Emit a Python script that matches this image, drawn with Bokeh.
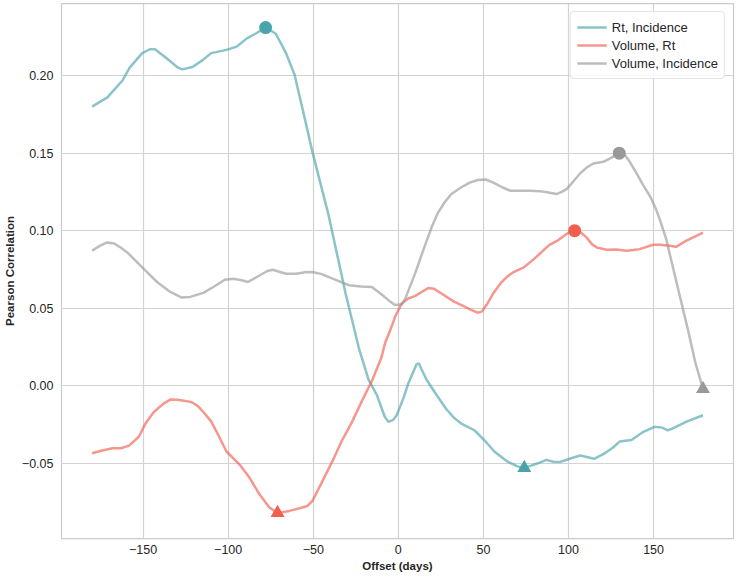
import numpy as np
from bokeh.plotting import figure
from bokeh.models import Range1d, FixedTicker, CustomJSTickFormatter, Legend, LegendItem
from bokeh.embed import file_html
from bokeh.resources import INLINE

# ---------------- data ----------------
series_names = ["Rt, Incidence", "Volume, Rt", "Volume, Incidence"]
series_colors = ["#4ba3ab", "#f0604f", "#999999"]

rt_inc_x = [-180, -171, -162, -158, -150.5, -146, -143, -136, -130, -127, -121, -115, -110, -101,
            -95, -89, -84, -78, -72, -66, -61, -54.5, -50.5, -41, -31, -23, -17.5, -12.6, -8, -5.8,
            -3, -1, 3, 6, 10.7, 12, 13.6, 16.5, 21.4, 28, 33, 37, 44.7, 50.5, 56.4, 64, 70, 74, 78,
            82, 87, 91, 95, 103, 107, 115, 120.5, 126, 130, 137, 144, 150.6, 155, 158.3, 161, 169, 179]
rt_inc_y = [0.180, 0.186, 0.197, 0.205, 0.2145, 0.2170, 0.2170, 0.211, 0.2055, 0.2040, 0.2055, 0.2100,
            0.2145, 0.2166, 0.2187, 0.224, 0.227, 0.231, 0.227, 0.2145, 0.2006, 0.170, 0.1508, 0.110,
            0.0595, 0.0234, 0.004, -0.006, -0.020, -0.0233, -0.022, -0.019, -0.008, 0.002, 0.0138,
            0.0145, 0.0106, 0.0040, -0.0042, -0.0148, -0.0210, -0.0244, -0.0287, -0.035, -0.0424,
            -0.0488, -0.052, -0.053, -0.0515, -0.050, -0.0478, -0.049, -0.0492, -0.0463, -0.045,
            -0.0471, -0.0441, -0.040, -0.036, -0.035, -0.0297, -0.0265, -0.027, -0.0287, -0.0276,
            -0.0233, -0.019]

vol_rt_x = [-180, -174, -168, -163, -158.3, -152.5, -148.6, -143.7, -138, -134, -130, -126, -121.4,
            -118, -114.6, -110, -106.8, -101, -93.2, -87.4, -81.6, -75.8, -71, -64, -58, -53.4, -50.5,
            -44.6, -38.8, -33, -27.2, -21.3, -15.5, -10, -7.8, -4, -1.9, 2, 5.8, 9.7, 13, 17.5, 21,
            25.3, 33, 38, 42.8, 46.6, 49, 52.4, 56, 60, 64.1, 68, 73.8, 80, 85.5, 89, 93.2, 99, 103.6,
            107, 110.7, 114, 116.6, 122.4, 128, 134, 138, 141.8, 149.6, 154, 159.3, 163.2, 169, 174, 179]
vol_rt_y = [-0.0435, -0.0418, -0.0403, -0.0403, -0.0386, -0.0329, -0.0244, -0.0169, -0.0115, -0.0089,
            -0.0090, -0.0096, -0.0106, -0.013, -0.0169, -0.023, -0.0297, -0.0424, -0.051, -0.0594,
            -0.070, -0.0785, -0.082, -0.0807, -0.079, -0.0775, -0.0743, -0.0615, -0.0488, -0.035,
            -0.0233, -0.0096, 0.0032, 0.018, 0.0276, 0.038, 0.0446, 0.0531, 0.0563, 0.0578, 0.060,
            0.0630, 0.0625, 0.0595, 0.0541, 0.0515, 0.0489, 0.0471, 0.0478, 0.0531, 0.060, 0.066,
            0.0705, 0.0735, 0.0764, 0.082, 0.0876, 0.091, 0.0934, 0.098, 0.100, 0.099, 0.0955, 0.091,
            0.0892, 0.0877, 0.0878, 0.0871, 0.0875, 0.0881, 0.0909, 0.091, 0.0903, 0.0896, 0.0934,
            0.096, 0.0987]

vol_inc_x = [-180, -175, -171, -167, -163, -159.3, -150.5, -141.8, -134, -127.2, -122.4, -114.6, -108.7,
             -102, -97, -92, -88.4, -81.6, -77, -73.8, -70, -66, -60, -55, -50.5, -45, -40.8, -35, -29,
             -22, -15.5, -10, -5.8, -2, 2, 4, 9.7, 15.5, 19.5, 23, 27, 31, 37, 42, 46.6, 51.5, 56.4, 61,
             66, 72, 77.7, 83, 87.4, 92.9, 96, 99, 103, 106.9, 111, 114.6, 120.5, 125, 129.8, 133, 136,
             140, 143.8, 148, 151.5, 154, 157.3, 161, 165, 170, 174.5, 179]
vol_inc_y = [0.0871, 0.0905, 0.0924, 0.0917, 0.089, 0.086, 0.0764, 0.0669, 0.0605, 0.0569, 0.0573,
             0.0599, 0.0637, 0.0684, 0.069, 0.068, 0.0669, 0.0711, 0.0740, 0.0748, 0.0735, 0.0722,
             0.0722, 0.0732, 0.0733, 0.0720, 0.070, 0.0675, 0.0648, 0.0640, 0.0637, 0.059, 0.0552,
             0.052, 0.0525, 0.056, 0.072, 0.090, 0.102, 0.111, 0.118, 0.1235, 0.128, 0.131, 0.1327,
             0.1330, 0.1306, 0.128, 0.1257, 0.1258, 0.1257, 0.1255, 0.1248, 0.1236, 0.125, 0.127,
             0.132, 0.137, 0.141, 0.1433, 0.1444, 0.147, 0.150, 0.149, 0.1444, 0.137, 0.1296, 0.122,
             0.1136, 0.106, 0.095, 0.078, 0.0597, 0.037, 0.015, -0.002]

x_ticks = [-150, -100, -50, 0, 50, 100, 150]
y_ticks = [-0.05, 0.0, 0.05, 0.10, 0.15, 0.20]

series_x = [rt_inc_x, vol_rt_x, vol_inc_x]
series_y = [rt_inc_y, vol_rt_y, vol_inc_y]

# ---------------- figure ----------------
FONT = "Liberation Sans"
p = figure(width=735, height=574, output_backend="svg", toolbar_location=None,
           x_range=Range1d(-197.95, 196.95), y_range=Range1d(-0.0985, 0.2465),
           min_border_left=10, min_border_right=2, min_border_top=3, min_border_bottom=0)

p.outline_line_color = "#cccccc"
p.outline_line_width = 1.25
p.background_fill_color = "white"
p.border_fill_color = "white"

for ax in (p.xaxis[0], p.yaxis[0]):
    ax.axis_line_color = None
    ax.major_tick_line_color = None
    ax.minor_tick_line_color = None
    ax.major_tick_in = 0
    ax.major_tick_out = 0
    ax.minor_tick_in = 0
    ax.minor_tick_out = 0
    ax.major_label_text_font = FONT
    ax.major_label_text_font_size = "12.5px"
    ax.major_label_text_color = "#262626"
    ax.axis_label_text_font = FONT
    ax.axis_label_text_font_size = "11.5px"
    ax.axis_label_text_font_style = "bold"
    ax.axis_label_text_color = "#262626"

p.xaxis.ticker = FixedTicker(ticks=x_ticks)
p.yaxis.ticker = FixedTicker(ticks=y_ticks)
p.xaxis.formatter = CustomJSTickFormatter(code="return String(Math.round(tick)).replace('-', '\u2212');")
p.yaxis.formatter = CustomJSTickFormatter(code="return tick.toFixed(2).replace('-', '\u2212');")
p.xaxis.axis_label = "Offset (days)"
p.yaxis.axis_label = "Pearson Correlation"
p.xaxis.major_label_standoff = 6
p.yaxis.major_label_standoff = 8
p.xaxis.axis_label_standoff = 3
p.yaxis.axis_label_standoff = 3

p.grid.grid_line_color = "#d3d3d3"
p.grid.grid_line_width = 1.2

items = []
for name, color, xs, ys in zip(series_names, series_colors, series_x, series_y):
    xs_a = np.array(xs, dtype=float)
    ys_a = np.array(ys, dtype=float)
    imax = int(np.argmax(ys_a))
    imin = int(np.argmin(ys_a))
    p.scatter([xs_a[imax]], [ys_a[imax]], marker="circle", size=13, color=color, line_color=None)
    p.scatter([xs_a[imin]], [ys_a[imin]], marker="triangle", size=14, color=color, line_color=None)
for name, color, xs, ys in zip(series_names, series_colors, series_x, series_y):
    r = p.line(xs, ys, line_color=color, line_alpha=0.65, line_width=2.5)
    items.append(LegendItem(label=name, renderers=[r]))

legend = Legend(items=items, location="top_right")
legend.label_text_font = FONT
legend.label_text_font_size = "13px"
legend.label_text_color = "#262626"
legend.glyph_width = 30
legend.glyph_height = 18
legend.label_height = 18
legend.spacing = 0
legend.padding = 6
legend.margin = 8
legend.border_line_color = "#cccccc"
legend.border_line_width = 1
legend.border_radius = 4
legend.background_fill_alpha = 0.85
p.add_layout(legend)

open("out.html", "w").write(file_html(p, INLINE))
